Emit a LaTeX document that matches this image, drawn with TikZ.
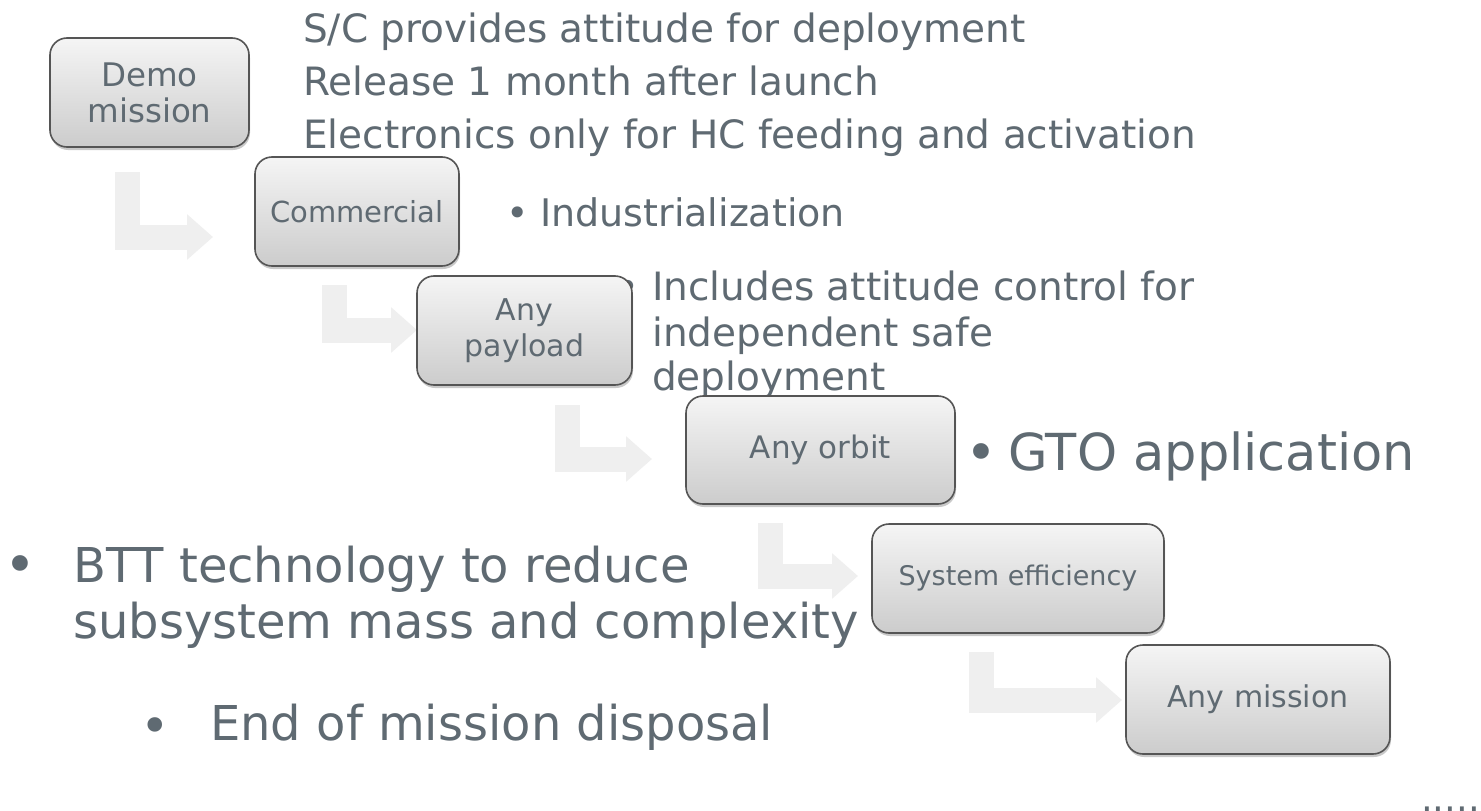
\documentclass[tikz,border=0pt]{standalone}
\usepackage{fontspec}
\setmainfont{DejaVu Sans}
\usetikzlibrary{shadows,calc,arrows.meta}
\definecolor{txt}{HTML}{5F6A72}
\definecolor{arr}{HTML}{EFEFEF}
\definecolor{bdr}{HTML}{555555}
\begin{document}
\begin{tikzpicture}[x=1pt,y=-1pt,
  box/.style={draw=bdr, line width=1.6pt, rounded corners=17pt,
    top color=white!96!black, bottom color=black!20,
    drop shadow={shadow xshift=1pt, shadow yshift=-3pt, opacity=0.35, fill=black!60},
    text=txt, align=center, inner sep=0pt},
  lbl/.style={text=txt, inner sep=0pt, anchor=base west},
  bul/.style={text=txt, inner sep=0pt, anchor=base},
  bentarrow/.style={draw=arr, line width=25pt, line join=miter, line cap=butt,
    -{Triangle[length=26pt,width=44pt]}}]
\useasboundingbox (0,0) rectangle (1481,811);
\fill[white] (0,0) rectangle (1481,811);

% box positions
\coordinate (c1) at (149.5,92.5);
\coordinate (c2) at (357,211.5);
\coordinate (c3) at (524.5,330.5);
\coordinate (c4) at (820.5,450);
\coordinate (c5) at (1018,578.5);
\coordinate (c6) at (1258,699.5);

% bent arrows
\coordinate (a1s) at (127.5,172);  \coordinate (a1e) at (213,237);
\coordinate (a2s) at (334.5,285);  \coordinate (a2e) at (417,330);
\coordinate (a3s) at (567.5,405);  \coordinate (a3e) at (652,459);
\coordinate (a4s) at (770.5,523);  \coordinate (a4e) at (858,576);
\coordinate (a5s) at (981,652);    \coordinate (a5e) at (1122,700);
\draw[bentarrow] (a1s) |- (a1e);
\draw[bentarrow] (a2s) |- (a2e);
\draw[bentarrow] (a3s) |- (a3e);
\draw[bentarrow] (a4s) |- (a4e);
\draw[bentarrow] (a5s) |- (a5e);

% side texts
\node[lbl, font=\fontsize{39}{47}\selectfont] (s1) at (303,42) {S/C provides attitude for deployment};
\node[lbl, font=\fontsize{39}{47}\selectfont] (s2) at (303,95) {Release 1 month after launch};
\node[lbl, font=\fontsize{39}{47}\selectfont] (s3) at (303,148) {Electronics only for HC feeding and activation};
\node[bul, font=\fontsize{38}{40}\selectfont] (ib) at (518,226) {•};
\node[lbl, font=\fontsize{38}{46}\selectfont] (it) at (540,226) {Industrialization};
\node[bul, font=\fontsize{39}{40}\selectfont] (pb) at (628,300) {•};
\node[lbl, font=\fontsize{39}{46}\selectfont] (p1) at (652,300) {Includes attitude control for};
\node[lbl, font=\fontsize{39}{46}\selectfont] (p2) at (652,346) {independent safe};
\node[lbl, font=\fontsize{39}{46}\selectfont] (p3) at (652,390) {deployment};
\node[bul, font=\fontsize{54}{60}\selectfont] (gb) at (981,471) {•};
\node[lbl, font=\fontsize{51}{60}\selectfont] (gt) at (1008,470) {GTO application};
\node[bul, font=\fontsize{54}{56}\selectfont] (bb) at (20,583) {•};
\node[lbl, font=\fontsize{48}{56}\selectfont] (b1t) at (73,582) {BTT technology to reduce};
\node[lbl, font=\fontsize{48}{56}\selectfont] (b2t) at (73,638) {subsystem mass and complexity};
\node[bul, font=\fontsize{50}{56}\selectfont] (eb) at (155,743) {•};
\node[lbl, font=\fontsize{48}{56}\selectfont] (et) at (210,740) {End of mission disposal};
\node[lbl, font=\fontsize{37}{40}\selectfont] (dots) at (1421,811) {......};

% boxes
\node[box, minimum width=199pt, minimum height=109pt, font=\fontsize{32.5}{36}\selectfont] (n1) at (c1) {Demo\\mission};
\node[box, minimum width=204pt, minimum height=109pt, font=\fontsize{29}{35}\selectfont] (n2) at (c2) {Commercial};
\node[box, minimum width=215pt, minimum height=109pt, font=\fontsize{30}{36}\selectfont] (n3) at (c3) {Any\\payload};
\node[box, minimum width=269pt, minimum height=108pt, font=\fontsize{31}{35}\selectfont] (n4) at (c4) {Any orbit};
\node[box, minimum width=292pt, minimum height=109pt, font=\fontsize{27}{35}\selectfont] (n5) at (c5) {System efficiency};
\node[box, minimum width=264pt, minimum height=109pt, font=\fontsize{30}{35}\selectfont] (n6) at (c6) {Any mission};
\end{tikzpicture}
\end{document}
